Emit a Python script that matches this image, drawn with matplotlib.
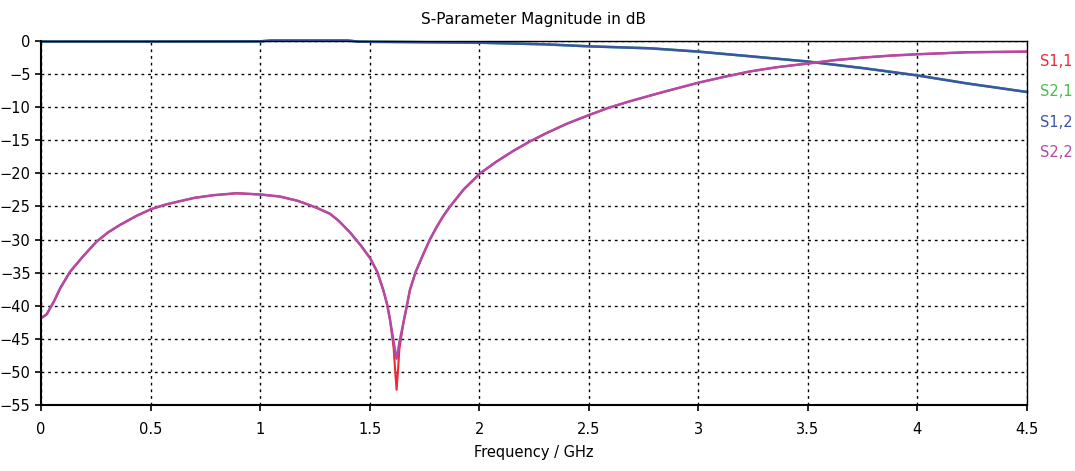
import matplotlib
matplotlib.use('Agg')
import matplotlib.pyplot as plt

# values
freq = [0.0, 0.026, 0.06, 0.087, 0.132, 0.193, 0.254, 0.307, 0.36, 0.437,
        0.503, 0.57, 0.634, 0.70, 0.786, 0.893, 1.006, 1.09, 1.167, 1.21,
        1.258, 1.319, 1.36, 1.41, 1.46, 1.502, 1.535, 1.562, 1.58, 1.593,
        1.61, 1.617, 1.623, 1.629, 1.636, 1.654, 1.67, 1.684, 1.71, 1.745,
        1.775, 1.806, 1.835, 1.867, 1.93, 2.004, 2.08, 2.156, 2.23, 2.308,
        2.4, 2.5, 2.59, 2.688, 2.84, 3.0, 3.12, 3.235, 3.36, 3.5,
        3.62, 3.753, 3.88, 4.0, 4.225, 4.5]
s11 = [-41.9, -41.3, -39.3, -37.4, -34.9, -32.5, -30.3, -28.9, -27.8, -26.4,
       -25.4, -24.7, -24.2, -23.7, -23.3, -23.0, -23.2, -23.5, -24.1, -24.6,
       -25.2, -26.1, -27.2, -28.9, -30.9, -32.8, -34.9, -37.6, -39.8, -42.1,
       -46.5, -50.0, -52.7, -50.0, -46.5, -42.6, -40.0, -37.6, -34.9, -32.2,
       -30.0, -28.1, -26.5, -25.0, -22.4, -20.0, -18.2, -16.6, -15.2, -13.9,
       -12.5, -11.2, -10.1, -9.1, -7.7, -6.3, -5.4, -4.6, -3.95, -3.4,
       -2.9, -2.5, -2.2, -2.0, -1.7, -1.6]
s22 = [-41.9, -41.3, -39.3, -37.4, -34.9, -32.5, -30.3, -28.9, -27.8, -26.4,
       -25.4, -24.7, -24.2, -23.7, -23.3, -23.0, -23.2, -23.5, -24.1, -24.6,
       -25.2, -26.1, -27.2, -28.9, -30.9, -32.8, -34.9, -37.6, -39.8, -42.1,
       -45.5, -47.0, -48.0, -47.0, -45.5, -42.6, -40.0, -37.6, -34.9, -32.2,
       -30.0, -28.1, -26.5, -25.0, -22.4, -20.0, -18.2, -16.6, -15.2, -13.9,
       -12.5, -11.2, -10.1, -9.1, -7.7, -6.3, -5.4, -4.6, -3.95, -3.4,
       -2.9, -2.5, -2.2, -2.0, -1.7, -1.6]

freq_t = [0.0, 0.5, 1.0, 1.05, 1.4, 1.45, 2.0, 2.3, 2.5, 2.78, 3.0, 3.235,
          3.5, 3.753, 4.0, 4.225, 4.5]
s21 = [-0.08, -0.08, -0.05, 0.08, 0.08, -0.1, -0.25, -0.5, -0.8, -1.1, -1.6,
       -2.3, -3.1, -4.1, -5.2, -6.4, -7.7]
s12 = list(s21)

labels = ['S1,1', 'S2,1', 'S1,2', 'S2,2']
colors = ['#f02832', '#46be46', '#3a55a8', '#b24aa6']

plt.rcParams['font.family'] = ['DejaVu Sans']

fig = plt.figure(figsize=(10.75, 4.71), dpi=100)
ax = fig.add_axes([0.0381, 0.1401, 0.9172, 0.7728])

ax.plot(freq, s11, color=colors[0], lw=1.5)
ax.plot(freq_t, s21, color=colors[1], lw=1.8, clip_on=False)
ax.plot(freq_t, s12, color=colors[2], lw=1.8, clip_on=False)
ax.plot(freq, s22, color=colors[3], lw=1.8)

ax.set_xlim(0, 4.5)
ax.set_ylim(-55, 0)
ax.set_xticks([0, 0.5, 1, 1.5, 2, 2.5, 3, 3.5, 4, 4.5])
ax.set_xticklabels(['0', '0.5', '1', '1.5', '2', '2.5', '3', '3.5', '4', '4.5'])
ax.set_yticks(range(-55, 1, 5))
ax.grid(True, color='black', linestyle=(0, (2.0, 2.8)), linewidth=1.0)

for side in ['left', 'bottom']:
    ax.spines[side].set_linewidth(1.5)
for side in ['top', 'right']:
    ax.spines[side].set_linewidth(1.0)
ax.tick_params(axis='both', direction='out', length=4, width=1.2,
               labelsize=10.5, colors='black')
ax.tick_params(axis='x', pad=8)

ax.set_title('S-Parameter Magnitude in dB', fontsize=11, pad=12)
ax.set_xlabel('Frequency / GHz', fontsize=10.5, labelpad=6)

for lab, col, yy in zip(labels, colors, [0.945, 0.860, 0.777, 0.695]):
    ax.text(1.013, yy, lab, color=col, fontsize=10.5, transform=ax.transAxes,
            ha='left', va='center')

fig.savefig('out.png', dpi=100)
